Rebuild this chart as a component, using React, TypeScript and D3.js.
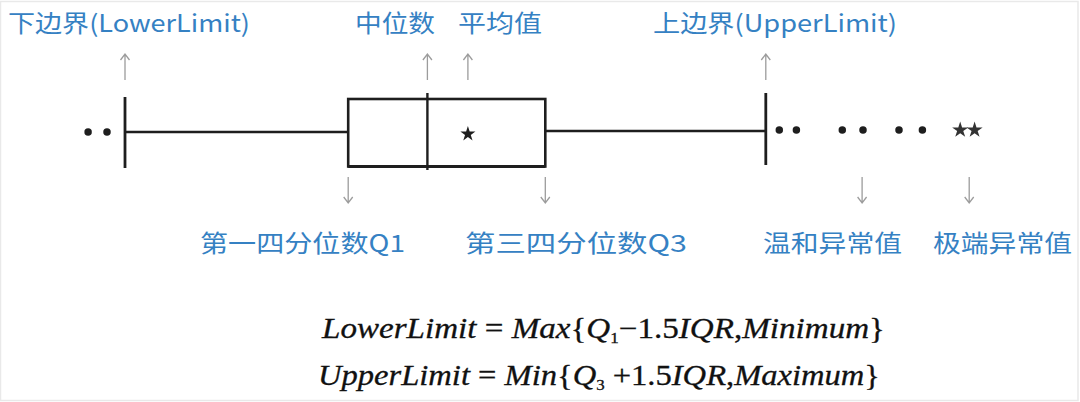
import React from 'react';
import * as d3 from 'd3';

// box plot statistics, in data units
const statNames = ['lowerLimit', 'q1', 'median', 'mean', 'q3', 'upperLimit'];
const statValues = [5.0, 29.8, 38.6, 43.1, 51.7, 76.2];

// outliers
const lowOutliers = [0.9, 3.0];
const mildOutliers = [77.7, 79.6, 84.7, 87.0, 91.0, 93.6];
const extremeOutliers = [97.8, 99.4];

// annotations above the box (arrow points up at the value)
const upLabels = ['下边界(LowerLimit)', '中位数', '平均值', '上边界(UpperLimit)'];
const upTargets = [5.0, 38.6, 43.1, 76.2];

// annotations below the box (arrow points down at the value)
const downLabels = ['第一四分位数Q1', '第三四分位数Q3', '温和异常值', '极端异常值'];
const downTargets = [29.8, 51.7, 86.9, 98.8];

const WIDTH = 1080;
const HEIGHT = 402;

// label boxes [left, width] in pixels, same order as the labels
const upLabelBox = [[8, 242], [355, 80], [458, 84], [653, 244]];
const downLabelBox = [[200, 205], [465, 222], [763, 139], [933, 139]];

const BLUE = '#3581c3';
const INK = '#1e1e1e';
const ARROW = '#9c9c9c';
const CJK = "'Noto Sans CJK SC', 'Noto Sans', sans-serif";
const SERIF = "'Liberation Serif', 'DejaVu Serif', serif";

function stat(name: string) {
  return statValues[statNames.indexOf(name)];
}

function arrowPath(x: number, y0: number, y1: number, up: boolean) {
  // shaft from y0 to y1 with a small open head at the tip
  const tip = up ? y0 : y1;
  const dir = up ? 1 : -1;
  return (
    'M' + x + ',' + y0 + 'V' + y1 +
    'M' + (x - 4.5) + ',' + (tip + dir * 6) + 'L' + x + ',' + tip + 'L' + (x + 4.5) + ',' + (tip + dir * 6)
  );
}

export default function App() {
  const x = d3.scaleLinear().domain([0, 100]).range([80, 980]);

  const midY = 132;
  const boxTop = 99;
  const boxBottom = 166.5;

  const dot = d3.symbol().type(d3.symbolCircle).size(44)();
  const star = d3.symbol().type(d3.symbolStar).size(80)();
  const meanStar = d3.symbol().type(d3.symbolStar).size(70)();

  const subSize = 15;

  return (
    <svg
      width={WIDTH}
      height={HEIGHT}
      style={{ position: 'fixed', left: 0, top: 0, background: '#fff' }}
    >
      <rect x={0.5} y={1.5} width={WIDTH - 2.5} height={HEIGHT - 3} fill="#fff" stroke="#e9e9e9" strokeWidth={1.5} />

      {/* whiskers */}
      <g stroke={INK} strokeWidth={2.4} fill="none">
        <line x1={x(stat('lowerLimit'))} x2={x(stat('q1'))} y1={midY} y2={midY} />
        <line x1={x(stat('q3'))} x2={x(stat('upperLimit'))} y1={midY - 1} y2={midY - 1} />
        <line x1={x(stat('lowerLimit'))} x2={x(stat('lowerLimit'))} y1={97} y2={168} strokeWidth={2.8} />
        <line x1={x(stat('upperLimit'))} x2={x(stat('upperLimit'))} y1={93} y2={165} strokeWidth={2.8} />
      </g>

      {/* box */}
      <rect
        x={x(stat('q1'))}
        y={boxTop}
        width={x(stat('q3')) - x(stat('q1'))}
        height={boxBottom - boxTop}
        fill="#fff"
        stroke={INK}
        strokeWidth={2.6}
      />
      <line x1={x(stat('q1'))} x2={x(stat('q3'))} y1={boxBottom} y2={boxBottom} stroke={INK} strokeWidth={3.2} />
      <line
        x1={x(stat('median'))}
        x2={x(stat('median'))}
        y1={93}
        y2={170}
        stroke={INK}
        strokeWidth={2.4}
      />
      <path d={meanStar} transform={'translate(' + x(stat('mean')) + ',' + 134 + ')'} fill={INK} />

      {/* outliers */}
      {lowOutliers.map((d, i) => (
        <path key={'lo-' + i} d={dot} transform={'translate(' + x(d) + ',' + midY + ')'} fill={INK} />
      ))}
      {mildOutliers.map((d, i) => (
        <path key={'mi-' + i} d={dot} transform={'translate(' + x(d) + ',' + 130 + ')'} fill={INK} />
      ))}
      {extremeOutliers.map((d, i) => (
        <path key={'ex-' + i} d={star} transform={'translate(' + x(d) + ',' + 130 + ')'} fill="#333" />
      ))}

      {/* arrows */}
      <g stroke={ARROW} strokeWidth={1.3} fill="none">
        {upTargets.map((d, i) => (
          <path key={'ua-' + i} d={arrowPath(x(d), 54, 80, true)} />
        ))}
        {downTargets.map((d, i) => (
          <path key={'da-' + i} d={arrowPath(x(d), 177, 203, false)} />
        ))}
      </g>

      {/* labels */}
      <g fill={BLUE} fontFamily={CJK} fontSize={24}>
        {upLabels.map((t, i) => (
          <text
            key={'ul-' + i}
            x={upLabelBox[i][0]}
            y={32}
            textLength={upLabelBox[i][1]}
            lengthAdjust="spacingAndGlyphs"
          >
            {t}
          </text>
        ))}
        {downLabels.map((t, i) => (
          <text
            key={'dl-' + i}
            x={downLabelBox[i][0]}
            y={252}
            textLength={downLabelBox[i][1]}
            lengthAdjust="spacingAndGlyphs"
          >
            {t}
          </text>
        ))}
      </g>

      {/* formulas */}
      <g fill="#111" stroke="#111" strokeWidth={0.3} fontFamily={SERIF} fontSize={29}>
        <text x={322} y={338} textLength={563} lengthAdjust="spacingAndGlyphs">
          <tspan fontStyle="italic">LowerLimit</tspan>
          <tspan> = </tspan>
          <tspan fontStyle="italic">Max</tspan>
          <tspan>{'{'}</tspan>
          <tspan fontStyle="italic">Q</tspan>
          <tspan fontSize={subSize} dy={5}>1</tspan>
          <tspan dy={-5}>{'\u2212'}1.5</tspan>
          <tspan fontStyle="italic">IQR</tspan>
          <tspan>,</tspan>
          <tspan fontStyle="italic">Minimum</tspan>
          <tspan>{'}'}</tspan>
        </text>
        <text x={318} y={385} textLength={562} lengthAdjust="spacingAndGlyphs">
          <tspan fontStyle="italic">UpperLimit</tspan>
          <tspan> = </tspan>
          <tspan fontStyle="italic">Min</tspan>
          <tspan>{'{'}</tspan>
          <tspan fontStyle="italic">Q</tspan>
          <tspan fontSize={subSize} dy={5}>3</tspan>
          <tspan dy={-5}> +1.5</tspan>
          <tspan fontStyle="italic">IQR</tspan>
          <tspan>,</tspan>
          <tspan fontStyle="italic">Maximum</tspan>
          <tspan>{'}'}</tspan>
        </text>
      </g>
    </svg>
  );
}
